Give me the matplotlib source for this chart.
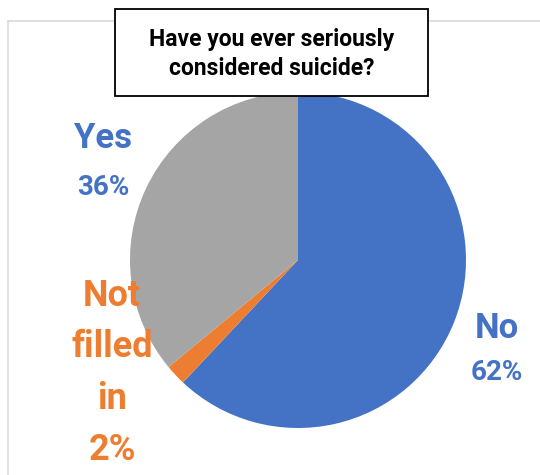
import matplotlib.pyplot as plt
from matplotlib.patches import Rectangle
from matplotlib.lines import Line2D

plt.rcParams['font.family'] = ['Roboto', 'DejaVu Sans']

labels = ["No", "Not filled in", "Yes"]
values = [62, 2, 36]
colors = ["#4472C4", "#ED7D31", "#A5A5A5"]
title = "Have you ever seriously\nconsidered suicide?"

W, H = 540, 475
fig = plt.figure(figsize=(W / 100, H / 100), dpi=100)


def fx(x):
    return x / W


def fy(y):
    return 1 - y / H


# chart area frame (left and top edges visible)
fig.add_artist(Line2D([fx(8), fx(8)], [0, fy(21)], color="#D9D9D9", lw=1.2))
fig.add_artist(Line2D([fx(8), 1], [fy(21), fy(21)], color="#D9D9D9", lw=1.2))

# pie
cx, cy, r = 298, 260, 168
ax = fig.add_axes([fx(cx - r), fy(cy + r), 2 * r / W, 2 * r / H])
ax.pie(values, colors=colors, startangle=90, counterclock=False,
       wedgeprops=dict(linewidth=0))
ax.set_xlim(-1, 1)
ax.set_ylim(-1, 1)
ax.set_aspect("equal")
ax.axis("off")

# title box
fig.add_artist(Rectangle((fx(115), fy(96)), fx(428) - fx(115), fy(9) - fy(96),
                         facecolor="white", edgecolor="black", lw=1.3, zorder=5))
fig.text(fx(272), fy(54), title, ha="center", va="center", fontsize=16.5,
         fontweight="bold", linespacing=1.35, zorder=6)

# data labels
fig.text(fx(103), fy(138), labels[2], color="#4472C4", fontsize=25,
         fontweight="bold", ha="center", va="center")
fig.text(fx(103), fy(187), f"{values[2]}%", color="#4472C4", fontsize=20,
         fontweight="bold", ha="center", va="center")

fig.text(fx(112), fy(373), "Not\nfilled\nin\n" + f"{values[1]}%", color="#ED7D31",
         fontsize=26, fontweight="bold", ha="center", va="center", linespacing=1.55)

fig.text(fx(497), fy(328), labels[0], color="#4472C4", fontsize=25,
         fontweight="bold", ha="center", va="center")
fig.text(fx(497), fy(372), f"{values[0]}%", color="#4472C4", fontsize=20,
         fontweight="bold", ha="center", va="center")

fig.savefig("out.png", dpi=100)
